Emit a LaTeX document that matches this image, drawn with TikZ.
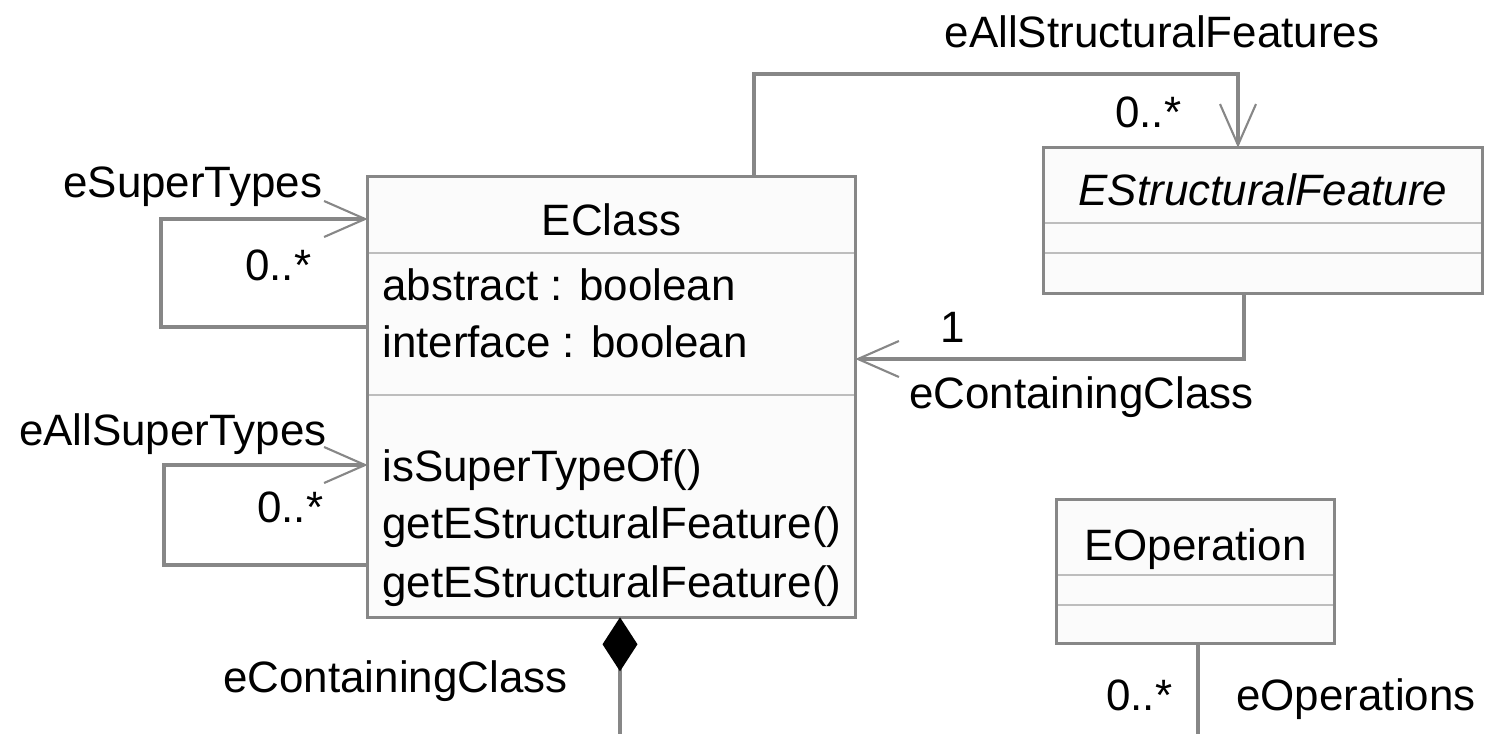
\documentclass[tikz,border=0pt]{standalone}
\usepackage{fontspec}
\setmainfont{Liberation Sans}
\usepackage{xcolor}
\usepackage{tikz}
\usetikzlibrary{shapes,arrows.meta}
\definecolor{linegray}{HTML}{878787}
\definecolor{sepgray}{HTML}{BDBDBD}
\definecolor{boxfill}{HTML}{FBFBFB}
\tikzstyle{classbox} = [rectangle, fill=boxfill, inner sep=0pt]
\tikzstyle{sep} = [draw=sepgray, line width=1.6pt]
\tikzstyle{txt} = [inner sep=0pt, font=\fontsize{25}{30}\selectfont]
\tikzstyle{line} = [draw=linegray, line width=1.9pt]
\tikzstyle{nav} = [line, -{Straight Barb[length=0.82cm, width=0.72cm, line width=1.2pt]}]
\tikzstyle{comp} = [line, {Diamond[length=1.08cm, width=0.7cm, black]}-]

\begin{document}
\begin{tikzpicture}[x=0.02cm, y=-0.02cm]
        \useasboundingbox (0,0) rectangle (1489,734);
        % Place nodes
        \node [classbox, minimum width=9.74cm, minimum height=8.8cm] (eclass) at (611.5,397) {};
        \node [classbox, minimum width=8.76cm, minimum height=2.9cm] (esf) at (1263,220.5) {};
        \node [classbox, minimum width=5.54cm, minimum height=2.86cm] (eop) at (1195.5,571.5) {};
        % Compartments
        \path [sep] (eclass.west |- 0,253) -- (eclass.east |- 0,253);
        \path [sep] (eclass.west |- 0,395) -- (eclass.east |- 0,395);
        \path [sep] (esf.west |- 0,223) -- (esf.east |- 0,223);
        \path [sep] (esf.west |- 0,253) -- (esf.east |- 0,253);
        \path [sep] (eop.west |- 0,575) -- (eop.east |- 0,575);
        \path [sep] (eop.west |- 0,605) -- (eop.east |- 0,605);
        \draw [linegray, line width=1.6pt] (eclass.south west) rectangle (eclass.north east);
        \draw [linegray, line width=1.6pt] (esf.south west) rectangle (esf.north east);
        \draw [linegray, line width=1.6pt] (eop.south west) rectangle (eop.north east);
        % Class texts
        \node [txt, anchor=base] (eclassname) at (611.5,235) {EClass};
        \node [txt, anchor=base west] (attrabstract) at (382,300) {abstract : boolean};
        \node [txt, anchor=base west] (attrinterface) at (382,357) {interface : boolean};
        \node [txt, anchor=base west] (opsuper) at (382,481) {isSuperTypeOf()};
        \node [txt, anchor=base west] (opget) at (382,538) {getEStructuralFeature()};
        \node [txt, anchor=base west] (opgettwo) at (382,597) {getEStructuralFeature()};
        \node [txt, anchor=base] (esfname) at (1263,205) {\itshape EStructuralFeature};
        \node [txt, anchor=base] (eopname) at (1195.5,560) {EOperation};
        % Draw edges
        \path [nav] (eclass.west |- 0,327) -- (161,327) -- (161,219) -- (eclass.west |- 0,219);
        \path [nav] (eclass.west |- 0,565) -- (164,565) -- (164,465) -- (eclass.west |- 0,465);
        \path [nav] (eclass.north -| 754,0) -- (754,74) -- (1238,74) -- (esf.north -| 1238,0);
        \path [nav] (esf.south -| 1244,0) -- (1244,359) -- (eclass.east |- 0,359);
        \coordinate (compend) at (620,734);
        \path [comp] (eclass.south -| compend) -- (compend);
        \coordinate (opend) at (1198,734);
        \path [line] (eop.south -| opend) -- (opend);
        % Edge labels
        \node [txt, anchor=base west] (lsuper) at (63,197) {eSuperTypes};
        \node [txt, anchor=base west] (msuper) at (245,280) {0..*};
        \node [txt, anchor=base east] (lallsuper) at (327,445) {eAllSuperTypes};
        \node [txt, anchor=base west] (mallsuper) at (257,522) {0..*};
        \node [txt, anchor=base] (lallsf) at (1162,47) {eAllStructuralFeatures};
        \node [txt, anchor=base west] (mallsf) at (1115,127) {0..*};
        \node [txt, anchor=base west] (mcont) at (940,342) {1};
        \node [txt, anchor=base west] (lcont) at (909,408) {eContainingClass};
        \node [txt, anchor=base west] (lcomp) at (223,692) {eContainingClass};
        \node [txt, anchor=base west] (mops) at (1106,710) {0..*};
        \node [txt, anchor=base west] (lops) at (1236,710) {eOperations};
    \end{tikzpicture}
\end{document}
